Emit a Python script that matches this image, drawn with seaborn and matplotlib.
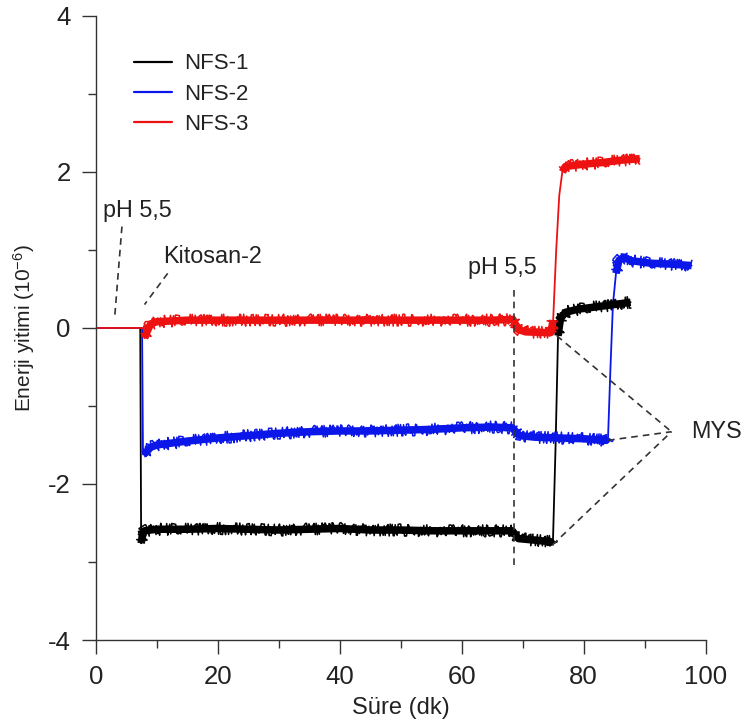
import matplotlib
matplotlib.use("Agg")
import numpy as np
import pandas as pd
import matplotlib.pyplot as plt
import seaborn as sns
from matplotlib.ticker import MultipleLocator
from matplotlib.lines import Line2D

# ---- data: energy dissipation (x1e-6) vs time (min) ----
series_names = ["NFS-1", "NFS-2", "NFS-3"]
series_colors = ["#000000", "#0b16e8", "#ee1111"]

nfs1_time = [0, 7.3, 7.45, 7.6, 8.0, 10, 15, 20, 25, 30, 35, 40, 45, 50, 55, 60, 65,
             68.3, 69.3, 72, 74.6, 74.95, 75.4, 75.8, 76.2, 77, 79, 82, 85, 87.7]
nfs1_value = [0, 0, -2.76, -2.68, -2.6, -2.58, -2.58, -2.57, -2.58, -2.59, -2.58, -2.57,
              -2.59, -2.59, -2.6, -2.6, -2.6, -2.6, -2.7, -2.72, -2.74, -2.78, -1.5, -0.1,
              0.12, 0.2, 0.24, 0.27, 0.3, 0.33]

nfs2_time = [0, 7.6, 7.75, 8.2, 9, 10, 15, 20, 25, 30, 35, 40, 45, 50, 55, 60, 65,
             68.3, 69.5, 72, 76, 80, 83.7, 84.0, 84.4, 84.8, 85.3, 85.8, 86.5, 88, 91, 94, 97.7]
nfs2_value = [0, 0, -1.62, -1.6, -1.53, -1.5, -1.45, -1.41, -1.38, -1.35, -1.33, -1.32,
              -1.32, -1.31, -1.3, -1.28, -1.27, -1.28, -1.38, -1.4, -1.41, -1.42, -1.44,
              -1.4, -0.5, 0.3, 0.7, 0.87, 0.9, 0.86, 0.83, 0.82, 0.8]

nfs3_time = [0, 7.85, 8.0, 8.4, 9, 10, 15, 20, 25, 30, 35, 40, 45, 50, 55, 60, 65,
             68.4, 69.3, 70.5, 74.6, 75.0, 75.5, 76.0, 76.5, 77, 80, 83, 86, 89.2]
nfs3_value = [0, 0, -0.13, -0.05, 0.05, 0.08, 0.1, 0.1, 0.1, 0.1, 0.1, 0.1, 0.1, 0.1,
              0.1, 0.1, 0.1, 0.11, -0.02, -0.05, -0.06, 0.1, 1.0, 1.7, 2.0, 2.07, 2.1,
              2.12, 2.15, 2.17]

# ---- annotation anchors (data coordinates) ----
ph_left_line = ([4.3, 3.1], [1.30, 0.13])
kitosan_line = ([11.8, 8.0], [0.70, 0.30])
ph_mid_line = ([68.6, 68.6], [0.49, -3.09])
mys_vertex = (94.4, -1.33)
mys_sources = [(75.6, -0.10), (84.0, -1.44), (74.9, -2.78)]

frames = []
for name, t, v in zip(series_names,
                      [nfs1_time, nfs2_time, nfs3_time],
                      [nfs1_value, nfs2_value, nfs3_value]):
    frames.append(pd.DataFrame({"time": t, "value": v, "sample": name}))
df = pd.concat(frames, ignore_index=True)
palette = dict(zip(series_names, series_colors))

sns.set_theme(style="ticks")
plt.rcParams["font.family"] = ["Liberation Sans", "DejaVu Sans"]
plt.rcParams["axes.unicode_minus"] = False
plt.rcParams["mathtext.fontset"] = "custom"
plt.rcParams["mathtext.rm"] = "Liberation Sans"
plt.rcParams["mathtext.it"] = "Liberation Sans:italic"

fig = plt.figure(figsize=(7.42, 7.24), dpi=100)
ax = fig.add_axes([0.129, 0.116, 0.822, 0.862])

# thin trace for the whole record (baseline and the steep steps)
sns.lineplot(data=df, x="time", y="value", hue="sample", palette=palette,
             estimator=None, sort=False, lw=1.3, legend=False, ax=ax)

# noisy plateaus: a solid band plus a spiky roughened overlay
for name in series_names:
    sub = df[df["sample"] == name]
    t = sub["time"].to_numpy()
    v = sub["value"].to_numpy()
    start = int(np.argmax(v != 0))
    slope = np.abs(np.diff(v) / np.diff(t))
    flat = slope < 0.6
    flat[:start] = False
    i = 0
    while i < len(flat):
        if flat[i]:
            j = i
            while j < len(flat) and flat[j]:
                j += 1
            ax.plot(t[i:j + 1], v[i:j + 1], color=palette[name], lw=5.4,
                    solid_capstyle="butt")
            rough, = ax.plot(t[i:j + 1], v[i:j + 1], color=palette[name], lw=1.1,
                             solid_capstyle="butt")
            rough.set_sketch_params(scale=6.0, length=1.0, randomness=2.0)
            i = j
        else:
            i += 1

# dashed annotation guides
dash = dict(color="#333333", lw=1.2, ls=(0, (4, 3)), clip_on=False)
ax.plot(*ph_left_line, **dash)
ax.plot(*kitosan_line, **dash)
ax.plot(*ph_mid_line, **dash)
for sx, sy in mys_sources:
    ax.plot([sx, mys_vertex[0]], [sy, mys_vertex[1]], **dash)

txt = dict(fontsize=16.8, color="#222222")
ax.text(1.15, 1.51, "pH 5,5", va="center", ha="left", **txt)
ax.text(11.0, 0.91, "Kitosan-2", va="center", ha="left", **txt)
ax.text(61.0, 0.77, "pH 5,5", va="center", ha="left", **txt)
ax.text(97.7, mys_vertex[1], "MYS", va="center", ha="left", clip_on=False, **txt)

# axes styling
ax.set_xlim(0, 100)
ax.set_ylim(-4, 4)
ax.xaxis.set_major_locator(MultipleLocator(20))
ax.xaxis.set_minor_locator(MultipleLocator(10))
ax.yaxis.set_major_locator(MultipleLocator(2))
ax.yaxis.set_minor_locator(MultipleLocator(1))
ax.tick_params(which="major", direction="out", length=10, width=1.0,
               color="#333333", labelsize=18.5, labelcolor="#222222", pad=8)
ax.tick_params(which="minor", direction="out", length=5.5, width=1.0, color="#333333")
for s in ["top", "right"]:
    ax.spines[s].set_visible(False)
for s in ["left", "bottom"]:
    ax.spines[s].set_color("#333333")
    ax.spines[s].set_linewidth(1.0)
ax.set_facecolor("white")

ax.set_xlabel("Süre (dk)", fontsize=17, color="#222222")
ax.set_ylabel(r"Enerji yitimi (10$^{-6}$)", fontsize=15, color="#222222")
ax.yaxis.set_label_coords(-0.097, 0.5)
ax.xaxis.set_label_coords(0.5, -0.092)

handles = [Line2D([], [], color=c, lw=1.6) for c in series_colors]
ax.legend(handles, series_names, loc="upper left", bbox_to_anchor=(0.063, 0.94),
          frameon=False, fontsize=16, handlelength=1.7, handletextpad=0.55,
          labelspacing=0.42, borderpad=0, borderaxespad=0, labelcolor="#222222")

fig.savefig("out.png", dpi=100, facecolor="white")
